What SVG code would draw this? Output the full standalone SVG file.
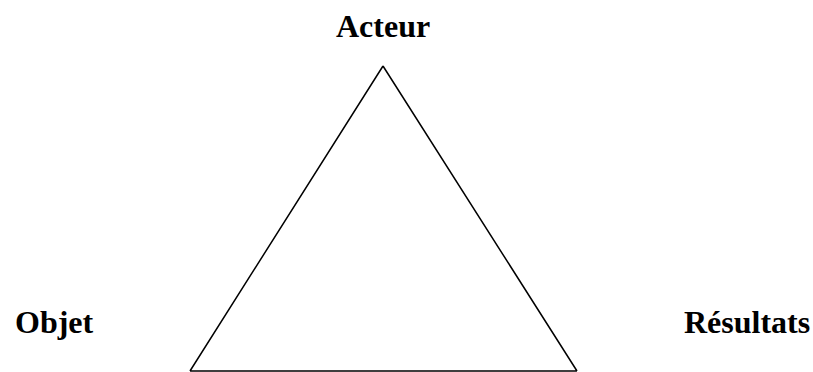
<svg xmlns="http://www.w3.org/2000/svg" width="813" height="372" viewBox="0 0 813 372">
<style>
.lbl{font-family:"Liberation Serif","Times New Roman",serif;font-weight:bold;font-size:32px;fill:#000}
.edge{stroke:#000;stroke-width:1.5;fill:none}
</style>
<rect width="813" height="372" fill="#fff"/>
<g id="connectors">
<path class="edge" d="M383,66 L190,371 M383,66 L577,371 M190,371 L577,371"/>
</g>
<g id="acteur"><text class="lbl" x="336" y="37">Acteur</text></g>
<g id="objet"><text class="lbl" x="15" y="333">Objet</text></g>
<g id="resultats"><text class="lbl" x="684" y="333">Résultats</text></g>
</svg>
